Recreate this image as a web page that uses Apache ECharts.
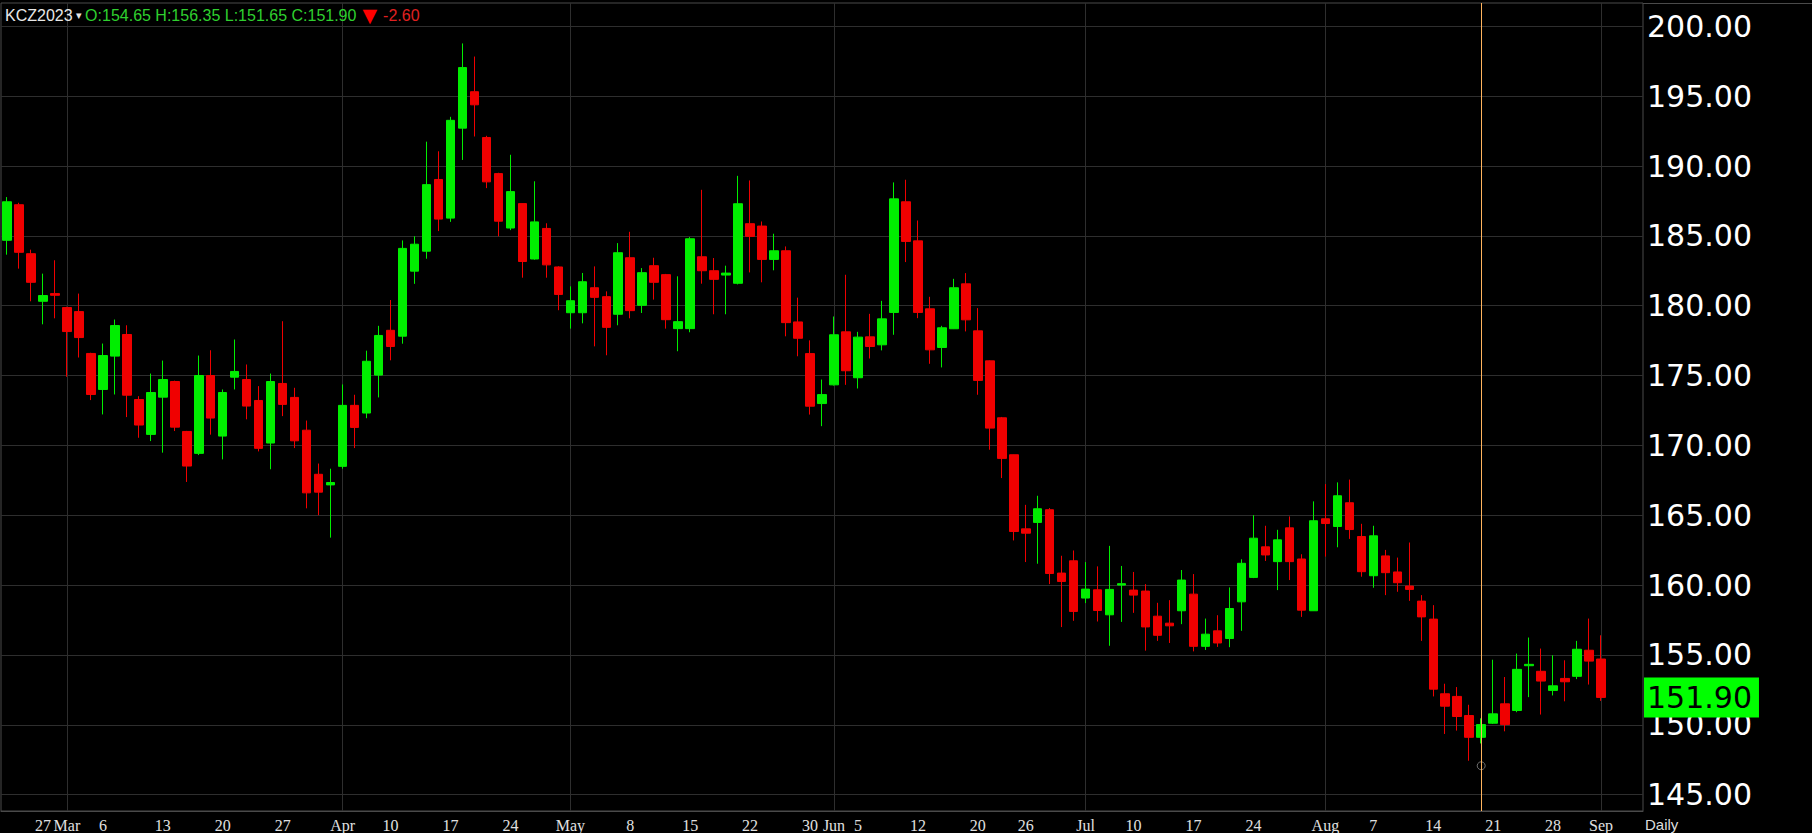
<!DOCTYPE html>
<html><head><meta charset="utf-8">
<script src="https://cdn.jsdelivr.net/npm/echarts@6/dist/echarts.min.js"></script>
<style>html,body{margin:0;padding:0;background:#000;overflow:hidden}#c{width:1812px;height:833px}</style>
</head><body><div id="c"></div>
<script>
const symbolName = 'KCZ2023';
const dates = [
'02-22','02-23','02-24','02-27','02-28',
'03-01','03-02','03-03','03-06','03-07','03-08','03-09','03-10','03-13','03-14','03-15','03-16','03-17','03-20','03-21','03-22','03-23','03-24','03-27','03-28','03-29','03-30','03-31',
'04-03','04-04','04-05','04-06','04-10','04-11','04-12','04-13','04-14','04-17','04-18','04-19','04-20','04-21','04-24','04-25','04-26','04-27','04-28',
'05-01','05-02','05-03','05-04','05-05','05-08','05-09','05-10','05-11','05-12','05-15','05-16','05-17','05-18','05-19','05-22','05-23','05-24','05-25','05-26','05-30','05-31',
'06-01','06-02','06-05','06-06','06-07','06-08','06-09','06-12','06-13','06-14','06-15','06-16','06-20','06-21','06-22','06-23','06-26','06-27','06-28','06-29','06-30',
'07-03','07-05','07-06','07-07','07-10','07-11','07-12','07-13','07-14','07-17','07-18','07-19','07-20','07-21','07-24','07-25','07-26','07-27','07-28','07-31',
'08-01','08-02','08-03','08-04','08-07','08-08','08-09','08-10','08-11','08-14','08-15','08-16','08-17','08-18','08-21','08-22','08-23','08-24','08-25','08-28','08-29','08-30','08-31',
'09-01'];
const open = [184.66,187.21,183.70,180.29,180.84,179.84,179.55,176.55,173.97,176.36,177.91,173.25,170.75,173.42,174.54,170.96,169.39,174.97,170.63,174.85,174.68,173.18,170.13,174.40,173.40,171.05,167.89,167.13,
168.46,172.83,172.28,175.00,178.21,177.79,182.45,183.88,189.02,186.25,192.70,195.31,192.03,189.44,185.54,187.29,183.32,185.51,182.75,
179.47,179.47,181.26,180.62,179.36,183.41,180.00,182.84,182.20,178.33,178.33,183.48,182.48,182.17,181.58,185.85,185.68,183.29,183.91,178.81,176.54,172.96,
174.30,178.10,174.81,177.74,177.17,179.49,187.42,184.62,179.75,176.98,178.32,181.54,178.17,176.02,171.94,169.29,163.98,164.44,165.35,160.81,161.69,
159.02,159.61,157.82,159.95,159.59,159.52,157.72,157.22,158.11,159.30,155.56,156.67,156.12,158.75,160.50,162.69,161.63,164.05,161.82,158.11,
164.70,164.15,165.85,163.43,160.62,162.04,160.89,159.88,158.80,157.51,152.16,151.97,150.60,149.04,150.05,151.44,150.96,154.17,153.77,152.40,153.26,153.41,155.28,
154.65];
const high = [187.76,187.35,183.99,182.27,183.23,179.90,180.84,176.60,177.26,178.98,178.57,173.49,175.11,176.04,174.60,171.00,176.40,176.78,173.97,177.55,175.76,174.21,175.11,178.86,174.09,171.74,168.66,168.29,
174.33,173.59,176.75,178.53,180.38,184.65,184.95,191.73,191.04,193.51,198.77,197.83,192.15,189.50,190.79,187.30,188.89,185.88,182.80,
181.36,182.32,182.79,181.00,184.46,185.27,182.67,183.41,182.25,182.08,184.89,188.28,183.39,182.84,189.28,188.95,186.01,185.13,184.22,180.55,177.49,174.68,
179.20,182.19,178.10,179.39,180.32,188.81,189.00,186.08,180.61,178.53,181.90,182.31,179.80,176.05,172.00,169.30,165.70,166.35,165.47,162.05,162.43,
161.60,161.29,162.76,161.32,160.89,160.02,158.68,158.87,161.03,160.74,157.55,157.79,159.78,161.80,164.96,164.20,163.91,164.87,162.16,165.95,
167.19,167.31,167.51,164.34,164.20,162.47,161.92,163.00,159.23,158.51,152.88,152.64,151.37,150.40,154.60,153.36,155.04,156.19,155.40,154.92,154.56,155.95,157.55,
156.35];
const low = [183.63,182.63,180.29,178.64,179.07,174.88,176.26,173.21,172.18,173.61,171.99,170.51,170.27,169.44,170.99,167.34,169.27,170.73,168.96,173.97,171.83,169.53,168.25,172.06,169.77,165.45,164.96,163.35,
168.29,169.77,171.91,173.40,176.06,177.25,181.54,183.34,185.32,185.98,190.42,192.10,188.40,184.95,185.39,181.98,183.27,181.98,179.65,
178.33,178.71,177.06,176.42,178.57,179.07,179.45,180.41,178.33,176.71,178.07,181.55,179.36,179.36,181.50,182.36,181.65,182.51,177.78,176.35,172.17,171.34,
174.25,174.30,174.04,176.19,176.77,177.89,183.10,179.08,175.81,175.55,178.30,178.13,173.59,169.65,167.62,163.15,161.60,161.48,160.02,156.94,157.39,
158.66,157.34,155.60,157.31,157.96,155.25,155.95,155.80,157.15,155.20,155.30,155.52,155.50,156.67,160.45,161.68,159.59,160.31,157.67,158.10,
161.99,162.66,163.26,160.55,159.76,159.23,159.47,158.82,155.95,151.97,149.28,149.52,147.36,148.60,150.00,149.47,150.84,151.92,150.67,152.04,151.62,153.21,152.82,
151.65];
const close = [187.42,183.80,181.65,180.70,180.72,178.12,177.69,173.61,176.40,178.55,173.56,171.42,173.75,174.68,171.27,168.48,174.97,171.92,173.75,175.26,172.78,169.75,174.54,172.90,170.29,166.56,166.61,167.30,
172.83,171.25,175.99,177.84,177.05,184.08,184.38,188.65,186.18,193.26,197.04,194.37,188.85,186.03,188.15,183.14,185.98,182.90,180.78,
180.33,181.69,180.57,178.42,183.77,179.62,182.34,181.65,178.97,178.83,184.77,182.48,181.86,182.31,187.28,184.94,183.29,183.91,178.76,177.64,172.77,173.60,
177.89,175.31,177.72,177.05,179.03,187.63,184.58,179.49,176.81,178.39,181.26,178.96,174.62,171.20,169.03,163.79,163.67,165.42,160.78,160.21,158.06,
159.66,158.13,159.64,160.05,159.23,156.95,156.35,157.03,160.31,155.56,156.43,155.80,158.27,161.51,163.31,162.11,163.19,161.63,158.15,164.56,
164.36,166.35,163.93,160.91,163.48,160.84,160.12,159.64,157.67,152.49,151.27,150.53,149.04,149.95,150.72,149.95,153.91,154.27,153.07,152.73,153.02,155.35,154.50,
151.90];
const tickDates  = ['02-27','03-01','03-06','03-13','03-20','03-27','04-03','04-10','04-17','04-24','05-01','05-08','05-15','05-22','05-30','06-01','06-05','06-12','06-20','06-26','07-03','07-10','07-17','07-24','08-01','08-07','08-14','08-21','08-28','09-01'];
const tickLabels = ['27','Mar','6','13','20','27','Apr','10','17','24','May','8','15','22','30','Jun','5','12','20','26','Jul','10','17','24','Aug','7','14','21','28','Sep'];
const monthStarts = ['03-01','04-03','05-01','06-01','07-03','08-01','09-01'];
const cursorDate = '08-18';
const cursorMarkPrice = 147.0;
const yTickMin = 145, yTickMax = 200, yTickStep = 5;

// layout
const W = 1812, H = 833;
const PLOT_LEFT = 1, PLOT_RIGHT_EDGE = 1643, PLOT_TOP = 3, PLOT_BOTTOM = 812;
const Y_AT_MAX_TICK = 26.3, PX_PER_UNIT = 13.97;
const y0max = yTickMax + (Y_AT_MAX_TICK - PLOT_TOP) / PX_PER_UNIT;
const y0min = y0max - (PLOT_BOTTOM - PLOT_TOP) / PX_PER_UNIT;
const g1top = Y_AT_MAX_TICK;
const g1bottom = H - (Y_AT_MAX_TICK + (yTickMax - yTickMin) * PX_PER_UNIT);
const EXTRA_SLOTS = 3;

const UP = '#00ee00', DOWN = '#f00000';
const GRIDC = '#2e2e2e', AXISC = '#4a4a4a';

const tickMap = new Map(tickDates.map((d, i) => [d, tickLabels[i]]));
const n = dates.length;
const lastO = open[n-1], lastH = high[n-1], lastL = low[n-1], lastC = close[n-1];
const chg = lastC - close[n-2];

const chart = echarts.init(document.getElementById('c'), null, {renderer: 'svg', width: W, height: H});
chart.setOption({
  backgroundColor: '#000',
  animation: false,
  title: {
    left: 5, top: 6, padding: 0,
    text: `{w|${symbolName}}{s| ▾ }{g|O:${lastO.toFixed(2)} H:${lastH.toFixed(2)} L:${lastL.toFixed(2)} C:${lastC.toFixed(2)}}{r| ▼ }{d|${chg.toFixed(2)}}`,
    textStyle: {
      fontWeight: 'normal',
      rich: {
        w: {color: '#e8e8e8', fontSize: 16, fontWeight: 'normal', fontFamily: 'Liberation Sans', lineHeight: 18},
        s: {color: '#e8e8e8', fontSize: 11, fontWeight: 'normal', fontFamily: 'DejaVu Sans', lineHeight: 18},
        g: {color: '#2fcf2f', fontSize: 16, fontWeight: 'normal', fontFamily: 'Liberation Sans', lineHeight: 18},
        r: {color: '#ff0000', fontSize: 19, fontWeight: 'normal', fontFamily: 'DejaVu Sans', lineHeight: 18},
        d: {color: '#e02020', fontSize: 16, fontWeight: 'normal', fontFamily: 'Liberation Sans', lineHeight: 18}
      }
    }
  },
  grid: [
    {left: PLOT_LEFT, right: W - PLOT_RIGHT_EDGE, top: PLOT_TOP, bottom: H - PLOT_BOTTOM,
     show: true, borderColor: AXISC, borderWidth: 1, backgroundColor: 'transparent'},
    {left: PLOT_LEFT, right: W - PLOT_RIGHT_EDGE, top: g1top, bottom: g1bottom}
  ],
  xAxis: [
    {type: 'category', gridIndex: 0, data: dates, max: n - 1 + EXTRA_SLOTS, boundaryGap: true,
     axisLine: {show: true, lineStyle: {color: AXISC}}, axisTick: {show: false}, splitLine: {show: false},
     axisLabel: {interval: (i, v) => tickMap.has(v), formatter: v => tickMap.get(v) || '',
       color: '#e0e0e0', fontSize: 16, fontFamily: 'Liberation Sans Narrow', margin: 6}},
    {type: 'category', gridIndex: 1, data: dates, max: n - 1 + EXTRA_SLOTS, boundaryGap: true, show: false}
  ],
  yAxis: [
    {type: 'value', gridIndex: 0, min: y0min, max: y0max, show: false, splitLine: {show: false}},
    {type: 'value', gridIndex: 1, position: 'right', min: yTickMin, max: yTickMax, interval: yTickStep,
     axisLine: {show: false}, axisTick: {show: false},
     splitLine: {show: true, lineStyle: {color: GRIDC, width: 1}},
     axisLabel: {color: '#ffffff', fontSize: 30, fontFamily: 'DejaVu Sans', margin: 4,
       showMinLabel: true, showMaxLabel: true, formatter: v => v.toFixed(2)}}
  ],
  series: [
    {
      type: 'candlestick', xAxisIndex: 0, yAxisIndex: 0, z: 3, silent: true, barWidth: 9,
      data: dates.map((d, i) => [open[i], close[i], low[i], high[i]]),
      itemStyle: {color: UP, color0: DOWN, borderColor: UP, borderColor0: DOWN, borderWidth: 1},
      markLine: {
        silent: true, symbol: 'none', z: 5, animation: false,
        data: [
          {yAxis: lastC, lineStyle: {color: 'rgba(0,0,0,0)', width: 0},
           label: {show: true, position: 'end', distance: 1, formatter: lastC.toFixed(2),
             backgroundColor: '#00ff00', color: '#000', fontSize: 30, fontFamily: 'DejaVu Sans',
             padding: [4, 7, 2, 3], lineHeight: 34}},
          {xAxis: cursorDate, lineStyle: {color: '#ffb45e', width: 1, type: 'solid'}, label: {show: false}}
        ]
      }
    },
    {
      type: 'scatter', xAxisIndex: 0, yAxisIndex: 0, z: 1, silent: true,
      data: [[cursorDate, cursorMarkPrice]], symbol: 'circle', symbolSize: 8,
      itemStyle: {color: 'rgba(0,0,0,0)', borderColor: '#8a8a8a', borderWidth: 1},
      markLine: {
        silent: true, symbol: 'none', z: 1, animation: false,
        label: {show: false},
        lineStyle: {color: GRIDC, width: 1, type: 'solid'},
        data: monthStarts.map(d => ({xAxis: d}))
      }
    }
  ],
  graphic: [
    {type: 'line', shape: {x1: PLOT_RIGHT_EDGE, y1: PLOT_TOP + 0.5, x2: W, y2: PLOT_TOP + 0.5}, style: {stroke: AXISC, lineWidth: 1}},
    {type: 'text', x: 1645, y: 817, style: {text: 'Daily', fill: '#dddddd', font: '15px "Liberation Sans"'}}
  ]
});
</script>
</body></html>
